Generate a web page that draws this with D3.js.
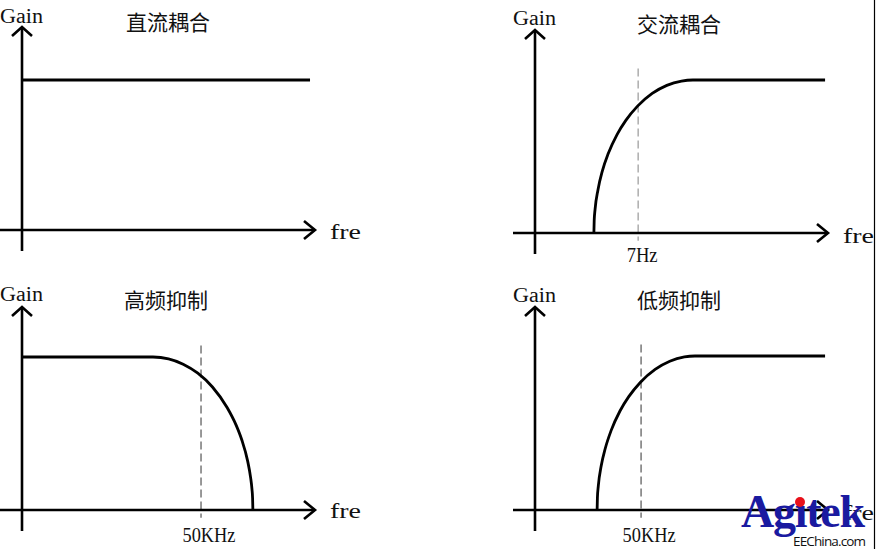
<!DOCTYPE html>
<html>
<head>
<meta charset="utf-8">
<script src="https://cdn.jsdelivr.net/npm/d3@7"></script>
<style>
  body { margin: 0; background: #fff; }
  svg { display: block; }
  .ax { stroke: #000; stroke-width: 2.6; fill: none; }
  .curve { stroke: #000; stroke-width: 2.8; fill: none; }
  .serif { font-family: "Liberation Serif", "DejaVu Serif", serif; fill: #111; }
  .cjk { font-family: "Noto Sans CJK SC", sans-serif; fill: #111; }
</style>
</head>
<body>
<div id="chart"></div>
<script>
// titles and cutoff labels for the four panels
var titles = ['直流耦合', '交流耦合', '高频抑制', '低频抑制'];
var cutoffLabels = ['', '7Hz', '50KHz', '50KHz'];
// cutoff frequency position (0..100 along the fre axis), null = none
var cutoffs = [null, 35.2, 61.1, 36.2];

// gain curves: [fre, gain], fre 0..100, gain 0..1
var dcCurve = [[0, 1], [98.3, 1]];
var acCurve = [[20.1, 0], [20.2, 0.08], [20.5, 0.155], [21.5, 0.283], [23, 0.406], [25, 0.519], [28, 0.643],
  [31, 0.736], [35, 0.829], [40, 0.912], [45, 0.965], [50, 0.993], [53.9, 1], [99, 1]];
var lowPassCurve = [[0, 1], [44.7, 1], [50, 0.988], [55, 0.953], [60, 0.894], [65, 0.804],
  [70, 0.670], [73, 0.558], [75, 0.459], [77, 0.321], [78, 0.215], [78.5, 0.133], [78.7, 0.077], [78.8, 0]];
var highPassCurve = [[21.2, 0], [21.3, 0.08], [21.6, 0.155], [22.6, 0.287], [24, 0.401], [26, 0.517], [29, 0.643],
  [32, 0.736], [36, 0.830], [41, 0.913], [46, 0.966], [51, 0.994], [54.6, 1], [99, 1]];
var curves = [dcCurve, acCurve, lowPassCurve, highPassCurve];

var W = 876, H = 549;

// panel layout: origin of axes, arrow tip of fre axis, y of gain = 1
var panels = [
  { ox: 22,  oy: 230, tip: 315, level: 80,  top: 27,  left: 0,   dash: '#555' },
  { ox: 535, oy: 233, tip: 828, level: 80,  top: 30,  left: 513, dash: '#999' },
  { ox: 22,  oy: 510, tip: 315, level: 357, top: 307, left: 0,   dash: '#555' },
  { ox: 535, oy: 510, tip: 828, level: 356, top: 307, left: 513, dash: '#555' }
];
var titleCenters = [168, 679, 166, 679];
var titleBase = [30, 32, 308, 308];
var gainBase = [23, 25, 301, 302];
var freBase = [239, 243, 518, 520];

var svg = d3.select('#chart').append('svg')
  .attr('width', W)
  .attr('height', H);

var line = d3.line().curve(d3.curveMonotoneX);

panels.forEach(function (p, i) {
  var x = d3.scaleLinear().domain([0, 100]).range([p.ox, p.tip]);
  var y = d3.scaleLinear().domain([0, 1]).range([p.oy, p.level]);
  var g = svg.append('g');

  // cutoff marker (dashed)
  if (cutoffs[i] !== null) {
    g.append('line')
      .attr('x1', x(cutoffs[i])).attr('x2', x(cutoffs[i]))
      .attr('y1', y(1.075)).attr('y2', y(-0.05))
      .attr('stroke', p.dash)
      .attr('stroke-width', 1.2)
      .attr('stroke-dasharray', '8,4');
    g.append('text')
      .attr('class', 'serif')
      .attr('x', x(cutoffs[i]) + (i === 1 ? 4 : 8))
      .attr('y', i === 1 ? 262 : 542)
      .attr('text-anchor', 'middle')
      .attr('font-size', 21)
      .attr('textLength', i === 1 ? 31 : 53)
      .attr('lengthAdjust', 'spacingAndGlyphs')
      .text(cutoffLabels[i]);
  }

  // axes
  g.append('line').attr('class', 'ax')
    .attr('x1', p.left).attr('x2', p.tip)
    .attr('y1', p.oy).attr('y2', p.oy);
  g.append('line').attr('class', 'ax')
    .attr('x1', p.ox).attr('x2', p.ox)
    .attr('y1', p.oy + 21).attr('y2', p.top);
  g.append('path').attr('class', 'ax')
    .attr('d', 'M' + (p.tip - 11) + ',' + (p.oy - 9) + 'L' + p.tip + ',' + p.oy + 'L' + (p.tip - 11) + ',' + (p.oy + 9));
  g.append('path').attr('class', 'ax')
    .attr('d', 'M' + (p.ox - 10) + ',' + (p.top + 9) + 'L' + p.ox + ',' + p.top + 'L' + (p.ox + 10) + ',' + (p.top + 9));

  // gain curve
  g.append('path').attr('class', 'curve')
    .attr('d', line(curves[i].map(function (d) { return [x(d[0]), y(d[1])]; })));

  // labels
  g.append('text').attr('class', 'serif')
    .attr('x', p.left).attr('y', gainBase[i])
    .attr('font-size', 20)
    .attr('textLength', 43)
    .attr('lengthAdjust', 'spacingAndGlyphs')
    .text('Gain');
  g.append('text').attr('class', 'serif')
    .attr('x', p.tip + 15).attr('y', freBase[i])
    .attr('font-size', 20)
    .attr('textLength', 31)
    .attr('lengthAdjust', 'spacingAndGlyphs')
    .text('fre');
  g.append('text').attr('class', 'cjk')
    .attr('x', titleCenters[i]).attr('y', titleBase[i])
    .attr('text-anchor', 'middle')
    .attr('font-size', 21)
    .text(titles[i]);
});

// right border of the original image
svg.append('line')
  .attr('x1', 874.5).attr('x2', 874.5)
  .attr('y1', 0).attr('y2', H)
  .attr('stroke', '#000').attr('stroke-width', 1.2);

// watermark
svg.append('text')
  .attr('x', 741).attr('y', 527)
  .attr('font-family', '"Liberation Serif", serif')
  .attr('font-weight', 'bold')
  .attr('font-size', 46)
  .attr('textLength', 124)
  .attr('fill', '#1a1aa0')
  .text('Agıtek');
svg.append('circle')
  .attr('cx', 800).attr('cy', 502).attr('r', 5)
  .attr('fill', '#e8101a');
svg.append('text')
  .attr('x', 793).attr('y', 546)
  .attr('font-family', '"Open Sans", sans-serif')
  .attr('font-size', 13.5)
  .attr('textLength', 73)
  .attr('fill', '#111')
  .text('EEChina.com');
</script>
</body>
</html>
